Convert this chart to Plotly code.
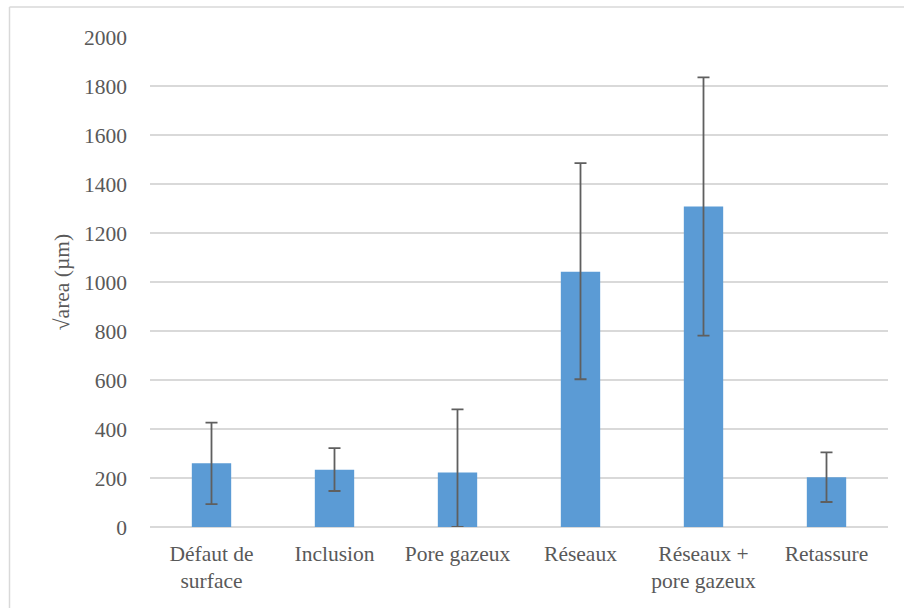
import plotly.graph_objects as go

categories = ["Défaut de<br>surface", "Inclusion", "Pore gazeux", "Réseaux",
              "Réseaux +<br>pore gazeux", "Retassure"]
values = [260, 234, 222, 1042, 1308, 203]
err_plus = [166, 88, 258, 443, 527, 102]
err_minus = [167, 87, 222, 439, 527, 101]
y_ticks = [0, 200, 400, 600, 800, 1000, 1200, 1400, 1600, 1800, 2000]

W, H = 904, 608
L, R, T, B = 150, 16, 37, 81
pw, ph = W - L - R, H - T - B

font_family = "Liberation Serif, Times New Roman, serif"
txt_color = "#595959"
fs = 21.5

fig = go.Figure()
fig.add_trace(go.Bar(
    x=categories, y=values,
    marker=dict(color="#5b9bd5", line=dict(width=0)),
    error_y=dict(type="data", symmetric=False, array=err_plus, arrayminus=err_minus,
                 color="#5f5f5f", thickness=1.8, width=6),
))

def px_x(p):
    return (p - L) / pw

def px_y(p):
    return (H - B - p) / ph

fig.update_layout(
    width=W, height=H,
    margin=dict(l=L, r=R, t=T, b=B, pad=0),
    paper_bgcolor="white", plot_bgcolor="white",
    bargap=0.68,
    showlegend=False,
    font=dict(family=font_family, size=fs, color=txt_color),
    xaxis=dict(showgrid=False, showline=False, ticks="", tickfont=dict(size=fs, color=txt_color),
               ticklabelstandoff=11),
    yaxis=dict(range=[0, 2000], tickvals=y_ticks, showgrid=True, gridcolor="#d9d9d9",
               gridwidth=1.5, zeroline=True, zerolinecolor="#d9d9d9", zerolinewidth=1.5,
               showline=False, ticks="", tickfont=dict(size=fs, color=txt_color),
               ticklabelstandoff=22,
               title=dict(text="√area (µm)", font=dict(size=fs, color=txt_color), standoff=8)),
    shapes=[
        dict(type="line", xref="paper", yref="paper", x0=px_x(9.5), x1=px_x(904), y0=px_y(7), y1=px_y(7),
             line=dict(color="#d9d9d9", width=1.5)),
        dict(type="line", xref="paper", yref="paper", x0=px_x(9.5), x1=px_x(9.5), y0=px_y(7), y1=px_y(608),
             line=dict(color="#d9d9d9", width=1.5)),
    ],
)

fig.write_html("out.html", config={"displayModeBar": False},
               post_script="document.body.style.margin='0';document.body.style.overflow='hidden';")
